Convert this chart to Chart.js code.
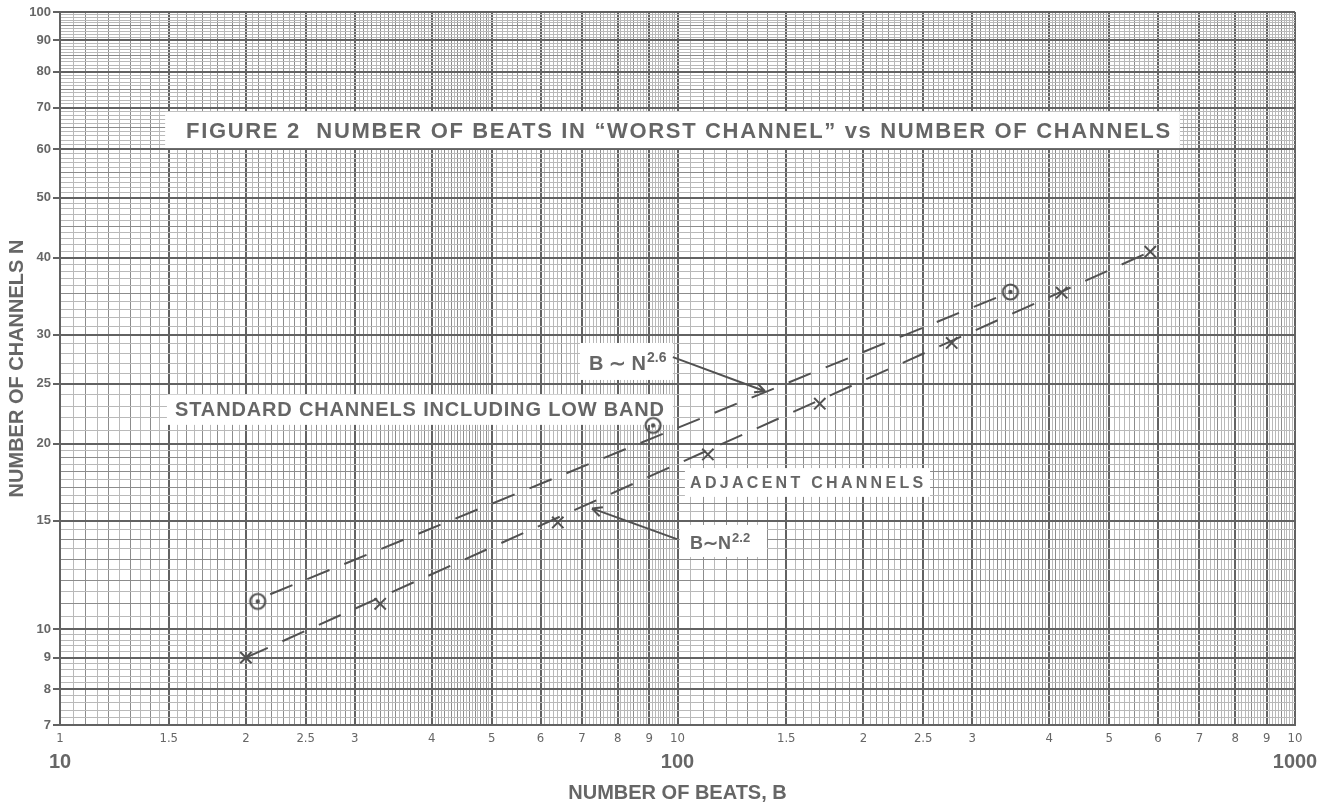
<!DOCTYPE html>
<html>
<head>
<meta charset="utf-8">
<title>Figure 2 - Number of beats vs number of channels</title>
<script src="https://cdn.jsdelivr.net/npm/chart.js@4.4.1/dist/chart.umd.min.js"></script>
<style>
    html, body { margin: 0; padding: 0; background: #fff; }
    #wrap { width: 1329px; height: 805px; }
</style>
</head>
<body>
<div id="wrap"><canvas id="beatsChart" width="1329" height="805"></canvas></div>
<script>
// Points (B = beats, N = channels)
const stdBeats = [20.9, 91.3, 346];
const stdChannels = [11.1, 21.4, 35.2];
const adjBeats = [20, 33, 64, 112, 170, 278, 419, 583];
const adjChannels = [9.0, 11.0, 14.9, 19.2, 23.2, 29.1, 35.1, 40.9];

// Hand drawn dashed trend lines (end points)
const stdFitBeats = [21.9, 346];
const stdFitChannels = [11.4, 35.2];
const adjFitBeats = [20, 583];
const adjFitChannels = [9.0, 40.9];

// Axis labels
const xTickValues = [10, 15, 20, 25, 30, 40, 50, 60, 70, 80, 90, 100, 150, 200, 250, 300, 400, 500, 600, 700, 800, 900, 1000];
const xTickLabels = ['1', '1.5', '2', '2.5', '3', '4', '5', '6', '7', '8', '9', '10', '1.5', '2', '2.5', '3', '4', '5', '6', '7', '8', '9', '10'];
const xDecadeValues = [10, 100, 1000];
const xDecadeLabels = ['10', '100', '1000'];
const yTickValues = [7, 8, 9, 10, 15, 20, 25, 30, 40, 50, 60, 70, 80, 90, 100];
const yTickLabels = ['7', '8', '9', '10', '15', '20', '25', '30', '40', '50', '60', '70', '80', '90', '100'];

const ink = '#515151';
const textInk = '#666666';
const paper = '#ffffff';
const sans = '"Liberation Sans", Arial, Helvetica, sans-serif';

// graph paper rulings
function rangeTicks(parts) {
    const out = [];
    parts.forEach(([from, to, step]) => {
        const n = Math.round((to - from) / step);
        for (let i = 0; i < n; i++) out.push(+(from + i * step).toFixed(3));
    });
    out.push(parts[parts.length - 1][1]);
    return out;
}
const xGrid = rangeTicks([[10, 50, 0.5], [50, 100, 1], [100, 500, 5], [500, 1000, 10]]);
const yGrid = rangeTicks([[7, 10, 0.2], [10, 20, 0.5], [20, 100, 1]]);

function isMultiple(v, step) {
    return Math.abs(v / step - Math.round(v / step)) < 1e-6;
}
function xLevel(v) {
    if (xTickValues.includes(v)) return 2;
    const dec = Math.pow(10, Math.floor(Math.log10(v) + 1e-9));
    const m = v / dec;
    return (m < 5 ? isMultiple(m, 0.1) : isMultiple(m, 0.5)) ? 1 : 0;
}
function yLevel(v) {
    if (yTickValues.includes(v)) return 2;
    const step = v < 10 ? 0.5 : v < 20 ? 1 : 5;
    return isMultiple(v, step) ? 1 : 0;
}
const ruleColor = ['#b9b9b9', '#8c8c8c', '#626262'];
const ruleWidth = [1, 1, 2];

// text boxes pasted onto the paper, positioned in data units
const notes = [
    { parts: [{ t: 'FIGURE 2  NUMBER OF BEATS IN \u201CWORST CHANNEL\u201D vs NUMBER OF CHANNELS', size: 22 }],
      from: 16.0, to: 627.6, at: 64.4, box: [14.8, 651, 68.9, 60.2] },
    { parts: [{ t: 'STANDARD CHANNELS INCLUDING LOW BAND', size: 20 }],
      from: 15.36, to: 95.1, at: 22.8, box: [14.9, 98.3, 24.0, 21.44] },
    { parts: [{ t: 'B \u223C N', size: 20 }, { t: '2.6', size: 14, sup: true }],
      from: 71.9, at: 27.0, box: [69.5, 98.3, 29.1, 25.35] },
    { parts: [{ t: 'ADJACENT CHANNELS', size: 16 }],
      from: 104.8, to: 249.9, at: 17.3, box: [102.8, 256.4, 18.25, 16.39] },
    { parts: [{ t: 'B\u223CN', size: 18 }, { t: '2.2', size: 13, sup: true }],
      from: 104.8, at: 13.8, box: [100.9, 139.6, 14.76, 13.1] }
];
const arrows = [
    { from: [98.3, 27.6], to: [138.6, 24.3] },
    { from: [99.8, 14.0], to: [72.7, 15.7] }
];

function drawNote(ctx, xs, ys, note) {
    const [b0, b1, n0, n1] = note.box;
    const left = xs.getPixelForValue(b0), right = xs.getPixelForValue(b1);
    const top = ys.getPixelForValue(n0), bottom = ys.getPixelForValue(n1);
    ctx.fillStyle = paper;
    ctx.fillRect(left, top, right - left, bottom - top);

    let x = xs.getPixelForValue(note.from);
    const capMid = ys.getPixelForValue(note.at);
    const base = note.parts[0].size;
    ctx.fillStyle = textInk;
    ctx.textAlign = 'left';
    ctx.textBaseline = 'alphabetic';
    note.parts.forEach(p => {
        ctx.save();
        ctx.font = 'bold ' + p.size + 'px ' + sans;
        const y = capMid + base * 0.358 - (p.sup ? base * 0.42 : 0);
        if (note.to !== undefined && note.parts.length === 1) {
            const target = xs.getPixelForValue(note.to) - x;
            const w = ctx.measureText(p.t).width;
            if ('letterSpacing' in ctx) {
                ctx.letterSpacing = ((target - w) / (p.t.length - 1)) + 'px';
                ctx.fillText(p.t, x, y);
            } else {
                ctx.translate(x, y);
                ctx.scale(target / w, 1);
                ctx.fillText(p.t, 0, 0);
            }
        } else {
            ctx.fillText(p.t, x, y);
            x += ctx.measureText(p.t).width + 1;
        }
        ctx.restore();
    });
}

function drawArrow(ctx, xs, ys, a) {
    const x0 = xs.getPixelForValue(a.from[0]), y0 = ys.getPixelForValue(a.from[1]);
    const x1 = xs.getPixelForValue(a.to[0]), y1 = ys.getPixelForValue(a.to[1]);
    const ang = Math.atan2(y1 - y0, x1 - x0);
    ctx.save();
    ctx.strokeStyle = ink;
    ctx.lineWidth = 2;
    ctx.beginPath();
    ctx.moveTo(x0, y0);
    ctx.lineTo(x1, y1);
    [0.45, -0.45].forEach(d => {
        ctx.moveTo(x1, y1);
        ctx.lineTo(x1 - 11 * Math.cos(ang + d), y1 - 11 * Math.sin(ang + d));
    });
    ctx.stroke();
    ctx.restore();
}

const paperNotes = {
    id: 'paperNotes',
    beforeDatasetsDraw(chart) {
        const ctx = chart.ctx;
        const xs = chart.scales.x, ys = chart.scales.y;
        ctx.save();
        notes.forEach(n => drawNote(ctx, xs, ys, n));
        arrows.forEach(a => drawArrow(ctx, xs, ys, a));
        ctx.restore();
    }
};

function ringMarker() {
    const c = document.createElement('canvas');
    c.width = 22;
    c.height = 22;
    const g = c.getContext('2d');
    g.strokeStyle = ink;
    g.lineWidth = 2.2;
    g.beginPath();
    g.arc(11, 11, 7.5, 0, Math.PI * 2);
    g.stroke();
    g.fillStyle = ink;
    g.beginPath();
    g.arc(11, 11, 2.2, 0, Math.PI * 2);
    g.fill();
    return c;
}

const toPoints = (bx, ny) => bx.map((b, i) => ({ x: b, y: ny[i] }));

document.addEventListener('DOMContentLoaded', function() {
    const ctx = document.getElementById('beatsChart').getContext('2d');

    new Chart(ctx, {
        type: 'scatter',
        data: {
            datasets: [{
                label: 'Standard channels fit',
                data: toPoints(stdFitBeats, stdFitChannels),
                showLine: true,
                borderColor: ink,
                borderWidth: 2,
                borderDash: [24, 16],
                pointRadius: 0
            },
            {
                label: 'Adjacent channels fit',
                data: toPoints(adjFitBeats, adjFitChannels),
                showLine: true,
                borderColor: ink,
                borderWidth: 2,
                borderDash: [24, 16],
                pointRadius: 0
            },
            {
                label: 'Standard channels including low band',
                data: toPoints(stdBeats, stdChannels),
                pointStyle: ringMarker(),
                pointRadius: 8
            },
            {
                label: 'Adjacent channels',
                data: toPoints(adjBeats, adjChannels),
                pointStyle: 'crossRot',
                pointRadius: 8,
                borderColor: ink,
                borderWidth: 2
            }]
        },
        options: {
            responsive: false,
            animation: false,
            devicePixelRatio: 1,
            layout: { padding: { top: 12, right: 34, left: 0, bottom: 0 } },
            plugins: {
                legend: { display: false },
                tooltip: { enabled: false }
            },
            scales: {
                x: {
                    type: 'logarithmic',
                    position: 'bottom',
                    weight: 0,
                    min: 10,
                    max: 1000,
                    afterBuildTicks: s => { s.ticks = xGrid.map(v => ({ value: v })); },
                    afterFit: s => { s.height = 25; },
                    grid: {
                        color: c => ruleColor[xLevel(c.tick.value)],
                        lineWidth: c => ruleWidth[xLevel(c.tick.value)],
                        drawTicks: false,
                        tickLength: 0
                    },
                    border: { color: ruleColor[2], width: 2 },
                    ticks: {
                        autoSkip: false,
                        maxRotation: 0,
                        minRotation: 0,
                        padding: 6,
                        major: { enabled: false },
                        color: textInk,
                        font: { family: '"Liberation Sans Narrow", "DejaVu Sans Condensed", sans-serif', size: 13 },
                        callback: v => {
                            const i = xTickValues.indexOf(v);
                            return i >= 0 ? xTickLabels[i] : '';
                        }
                    }
                },
                x2: {
                    type: 'logarithmic',
                    position: 'bottom',
                    weight: 1,
                    min: 10,
                    max: 1000,
                    afterBuildTicks: s => { s.ticks = xDecadeValues.map(v => ({ value: v })); },
                    afterFit: s => { s.height = 55; },
                    grid: { display: false, drawTicks: false, tickLength: 0 },
                    border: { display: false },
                    ticks: {
                        autoSkip: false,
                        maxRotation: 0,
                        padding: 0,
                        major: { enabled: false },
                        color: textInk,
                        font: { family: sans, size: 20, weight: 'bold' },
                        callback: v => {
                            const i = xDecadeValues.indexOf(v);
                            return i >= 0 ? xDecadeLabels[i] : '';
                        }
                    },
                    title: {
                        display: true,
                        text: 'NUMBER OF BEATS, B',
                        color: textInk,
                        font: { family: sans, size: 20, weight: 'bold' },
                        padding: { top: 0, bottom: 0 }
                    }
                },
                y: {
                    type: 'logarithmic',
                    min: 7,
                    max: 100,
                    afterBuildTicks: s => { s.ticks = yGrid.map(v => ({ value: v })); },
                    afterFit: s => { s.width = 60; },
                    grid: {
                        color: c => ruleColor[yLevel(c.tick.value)],
                        lineWidth: c => ruleWidth[yLevel(c.tick.value)],
                        tickColor: c => yTickValues.includes(c.tick.value) ? ruleColor[2] : 'rgba(0,0,0,0)',
                        tickWidth: 2,
                        tickLength: 7
                    },
                    border: { color: ruleColor[2], width: 2 },
                    ticks: {
                        autoSkip: false,
                        padding: 2,
                        major: { enabled: false },
                        color: textInk,
                        font: { family: sans, size: 13, weight: 'bold' },
                        callback: v => {
                            const i = yTickValues.indexOf(v);
                            return i >= 0 ? yTickLabels[i] : '';
                        }
                    },
                    title: {
                        display: true,
                        text: 'NUMBER OF CHANNELS N',
                        color: textInk,
                        font: { family: sans, size: 20, weight: 'bold' },
                        padding: { top: 5, bottom: 0 }
                    }
                }
            }
        },
        plugins: [paperNotes]
    });
});
</script>
</body>
</html>
